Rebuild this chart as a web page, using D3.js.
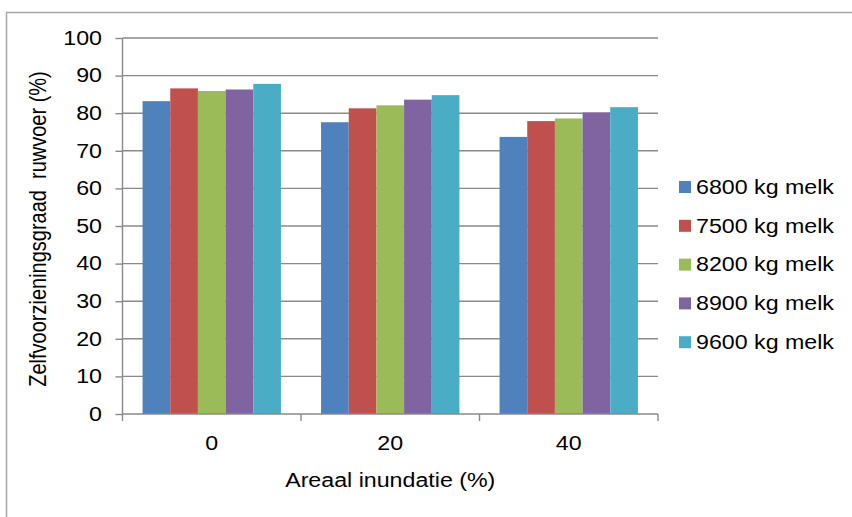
<!DOCTYPE html>
<html><head><meta charset="utf-8">
<script src="https://cdn.jsdelivr.net/npm/d3@7"></script>
<style>body{margin:0;background:#fff}svg{display:block}text{font-family:"Liberation Sans",Arial,sans-serif;fill:#000}</style>
</head><body><svg id="c" width="852" height="517"></svg>
<script>
const categories = ["0", "20", "40"];
const seriesNames = ["6800 kg melk", "7500 kg melk", "8200 kg melk", "8900 kg melk", "9600 kg melk"];
const s6800 = [83.2, 77.6, 73.7];
const s7500 = [86.6, 81.3, 77.9];
const s8200 = [85.9, 82.1, 78.6];
const s8900 = [86.3, 83.6, 80.2];
const s9600 = [87.8, 84.8, 81.6];
const seriesValues = [s6800, s7500, s8200, s8900, s9600];
const yTicks = [0, 10, 20, 30, 40, 50, 60, 70, 80, 90, 100];
const colors = ["#4F81BD", "#C0504D", "#9BBB59", "#8064A2", "#4BACC6"];

const FS = 19.5, SX = 1.19;
const svg = d3.select("#c");
// outer chart border
svg.append("rect").attr("x", 6.5).attr("y", 12.5).attr("width", 900).attr("height", 600)
  .attr("fill", "none").attr("stroke", "#a6a6a6").attr("stroke-width", 1.5);

const L = 122.5, R = 658, T = 38, B = 414;
const x = d3.scaleBand().domain(categories).range([L, R]).paddingInner(0).paddingOuter(0);
const gap = 1.45;
const inner = d3.scaleBand().domain(d3.range(seriesNames.length)).range([0, x.bandwidth() * 5 / (5 + gap)]);
const y = d3.scaleLinear().domain([0, 100]).range([B, T]);

// gridlines
svg.append("g").selectAll("line").data(yTicks.filter(d => d > 0)).join("line")
  .attr("x1", L).attr("x2", R).attr("y1", d => y(d)).attr("y2", d => y(d))
  .attr("stroke", "#8a8a8a").attr("stroke-width", 1.4);

// bars
const off = (x.bandwidth() - inner.range()[1]) / 2;
seriesValues.forEach((vals, si) => {
  svg.append("g").selectAll("rect").data(vals).join("rect")
    .attr("x", (d, i) => x(categories[i]) + off + inner(si))
    .attr("y", d => y(d))
    .attr("width", inner.bandwidth())
    .attr("height", d => B - y(d))
    .attr("fill", colors[si]);
});

// y axis
const yAxis = d3.axisLeft(y).tickValues(yTicks).tickSize(7).tickPadding(0);
const gy = svg.append("g").attr("transform", `translate(${L},0)`).call(yAxis);
gy.select(".domain").attr("stroke", "#8a8a8a").attr("stroke-width", 1.4).attr("d", `M0,${T}V${B}`);
gy.selectAll(".tick line").attr("stroke", "#8a8a8a").attr("stroke-width", 1.4);
gy.selectAll(".tick text").attr("x", 0).attr("transform", `translate(-20.5,0) scale(${SX},1)`)
  .attr("font-size", FS).attr("font-family", "Liberation Sans, Arial, sans-serif").attr("fill", "#000");

// x axis
const xAxis = d3.axisBottom(x).tickSize(0).tickPadding(22);
const gx = svg.append("g").attr("transform", `translate(0,${B})`).call(xAxis);
gx.select(".domain").attr("stroke", "#8a8a8a").attr("stroke-width", 1.4).attr("d", `M${L},0H${R}`);
gx.selectAll(".tick text").attr("transform", `scale(${SX},1)`)
  .attr("font-size", FS).attr("font-family", "Liberation Sans, Arial, sans-serif").attr("fill", "#000");
const bounds = [L].concat(categories.map(c => x(c) + x.bandwidth()));
gx.append("g").selectAll("line").data(bounds).join("line")
  .attr("x1", d => d).attr("x2", d => d).attr("y1", 0).attr("y2", 7)
  .attr("stroke", "#8a8a8a").attr("stroke-width", 1.4);

// axis titles
svg.append("text").attr("transform", `translate(${L + (R - L) / 2},487) scale(${SX},1)`).attr("text-anchor", "middle")
  .attr("font-size", FS).text("Areaal inundatie (%)");
svg.append("text").attr("transform", `translate(46,${(T + B) / 2 + 3}) rotate(-90) scale(1,${SX})`).attr("text-anchor", "middle")
  .attr("font-size", 20).attr("xml:space", "preserve").style("white-space", "pre").text("Zelfvoorzieningsgraad  ruwvoer (%)");

// legend
const lg = svg.append("g");
seriesNames.forEach((n, i) => {
  const cy = 187 + i * 38.8;
  lg.append("rect").attr("x", 679).attr("y", cy - 6).attr("width", 12).attr("height", 12).attr("fill", colors[i]);
  lg.append("text").attr("transform", `translate(696,${cy}) scale(${SX},1)`).attr("dy", "0.35em").attr("font-size", FS).text(n);
});
</script></body></html>
